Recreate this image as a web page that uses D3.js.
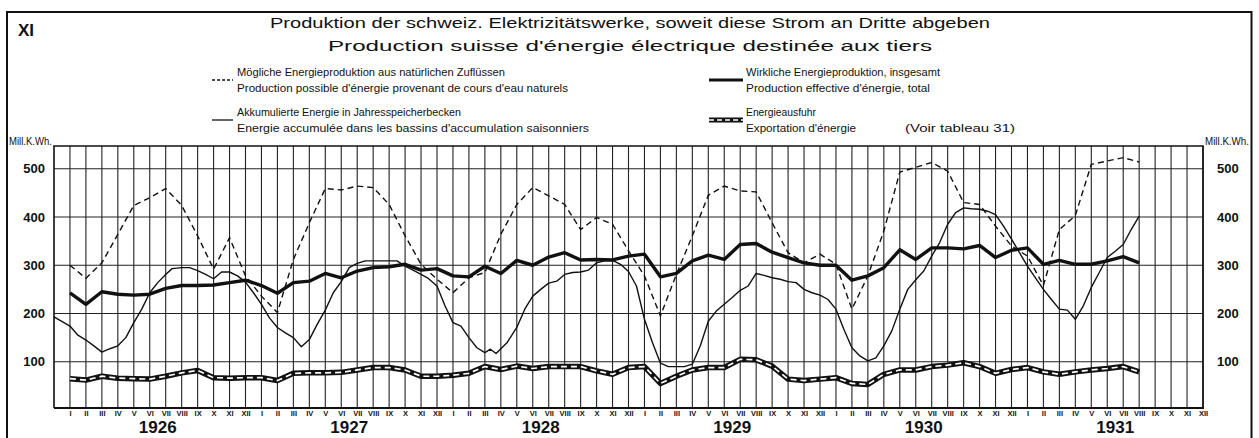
<!DOCTYPE html>
<html><head><meta charset="utf-8">
<script src="https://cdn.jsdelivr.net/npm/d3@7"></script>
<style>
html,body{margin:0;padding:0;background:#fff;}
svg{display:block;}
text{font-family:"Liberation Sans Narrow","Liberation Sans",Arial,sans-serif;fill:#111;}
</style></head>
<body>
<svg id="c" width="1259" height="438"></svg>
<script>
// ---------- data (month index 0 = Jan 1926) ----------
const years = ["1926","1927","1928","1929","1930","1931"];
const monthLabels = ["I","II","III","IV","V","VI","VII","VIII","IX","X","XI","XII"];
const yTicks = [100,200,300,400,500];

// Mögliche Energieproduktion (dashed), monthly from 1926 I
const possible = [300,273,305,364,424,440,459,424,361,292,357,278,
  236,202,312,388,459,456,464,461,426,361,302,271,
  243,274,285,364,426,461,444,426,374,399,385,330,
  278,195,281,361,445,464,454,452,388,326,305,323,
  302,209,278,371,493,503,513,495,430,426,381,340,
  319,258,374,403,509,516,523,514];

// Wirkliche Energieproduktion (thick), monthly
const actual = [243,219,245,240,238,240,252,258,258,259,264,269,
  258,242,264,267,283,274,288,295,297,302,290,293,
  278,276,298,283,310,300,317,326,311,312,311,319,
  323,276,283,309,321,312,343,345,327,316,305,300,
  300,269,278,295,332,312,336,336,334,341,316,331,
  336,302,310,302,302,309,318,305];

// Energieausfuhr (export), monthly
const exportE = [65,62,70,66,65,64,70,77,82,67,66,67,
  67,61,76,77,77,78,83,88,88,83,70,70,
  72,76,90,84,91,86,90,90,90,81,74,88,
  90,55,70,83,88,88,105,104,91,64,61,64,
  67,55,53,74,83,83,90,93,98,90,76,84,
  88,79,74,79,83,86,90,79];

// Akkumulierte Energie (thin), read at roughly half-month steps
const accMonth = [-1,0,0.5,1,1.5,2,2.5,3,3.5,4,4.5,5,5.5,6,6.4,7,7.5,8,8.5,9,9.5,10,10.5,11,11.5,
  12,12.5,13,13.5,14,14.5,15,15.5,16,16.5,17,17.5,18,18.5,19,19.5,20,20.5,21,21.5,22,22.4,23,23.5,
  24,24.5,25,25.5,26,26.35,26.7,27.4,28,28.5,29,29.5,30,30.5,31,31.5,32,32.5,33,33.5,34,34.5,35,35.5,
  36,36.5,37,37.5,38,38.5,39,39.5,40,40.5,41,41.5,42,42.5,43,43.5,44,44.5,45,45.5,46,46.5,47,47.5,
  48,48.5,49,49.5,50,50.5,51,51.5,52,52.5,53,53.5,54,54.5,55,55.5,56,56.5,57,57.5,58,58.5,59,59.5,
  60,60.5,61,61.5,62,62.5,63,63.5,64,64.5,65,65.5,66,66.5,67];
const accValue = [193,174,155,145,133,120,127,133,150,181,209,243,264,281,293,295,295,289,281,272,286,286,278,265,243,
  219,191,171,160,150,131,146,178,207,243,266,295,304,309,309,309,309,309,298,290,281,274,257,216,
  181,174,150,129,119,126,117,140,171,209,236,250,263,267,281,285,286,290,305,309,310,302,287,257,
  188,140,97,90,90,90,95,133,184,205,219,233,248,257,283,279,274,271,266,264,250,243,238,229,
  209,167,129,112,102,108,133,164,209,250,270,288,319,347,385,409,419,417,416,412,405,381,354,326,
  298,274,250,229,209,207,188,216,254,285,316,329,343,374,402];

// ---------- layout ----------
const svg = d3.select("#c");
const L = 54, R = 1203, T = 146, B = 408;
const x = d3.scaleLinear().domain([-1, 71]).range([L, R]);
const y = d3.scaleLinear().domain([0, 500]).range([410, 168.75]);
const months = d3.range(0, 72);

// outer frame
svg.append("path").attr("d", "M7,438 V12 H1251.5 V438").attr("fill","none").attr("stroke","#111").attr("stroke-width",2);

// titles
svg.append("text").attr("x",18).attr("y",36).attr("font-size",17).attr("font-weight","bold")
  .attr("font-family","Liberation Sans, Arial, sans-serif").text("XI");
svg.append("text").attr("x",630).attr("y",28).attr("text-anchor","middle").attr("font-size",15)
  .attr("textLength",720).attr("lengthAdjust","spacingAndGlyphs")
  .text("Produktion der schweiz. Elektrizitätswerke, soweit diese Strom an Dritte abgeben");
svg.append("text").attr("x",630).attr("y",51).attr("text-anchor","middle").attr("font-size",15)
  .attr("textLength",604).attr("lengthAdjust","spacingAndGlyphs")
  .text("Production suisse d'énergie électrique destinée aux tiers");

// legend
function ltext(tx, ty, s, w){
  svg.append("text").attr("x",tx).attr("y",ty).attr("font-size",11.5)
    .attr("textLength",w).attr("lengthAdjust","spacingAndGlyphs").text(s);
}
ltext(237,76,"Mögliche Energieproduktion aus natürlichen Zuflüssen",268);
ltext(237,92,"Production possible d'énergie provenant de cours d'eau naturels",331);
ltext(237,116,"Akkumulierte Energie in Jahresspeicherbecken",224);
ltext(237,132,"Energie accumulée dans les bassins d'accumulation saisonniers",352);
ltext(746,76,"Wirkliche Energieproduktion, insgesamt",194);
ltext(746,92,"Production effective d'énergie, total",184);
ltext(746,116,"Energieausfuhr",70);
ltext(746,132,"Exportation d'énergie",110);
ltext(905,132,"(Voir tableau 31)",110);

svg.append("line").attr("x1",212).attr("x2",233).attr("y1",80).attr("y2",80)
  .attr("stroke","#111").attr("stroke-width",1.3).attr("stroke-dasharray","3,2");
svg.append("line").attr("x1",212).attr("x2",233).attr("y1",120).attr("y2",120)
  .attr("stroke","#111").attr("stroke-width",1.3);
svg.append("line").attr("x1",709).attr("x2",743).attr("y1",80).attr("y2",80)
  .attr("stroke","#111").attr("stroke-width",3.2);
svg.append("line").attr("x1",709).attr("x2",743).attr("y1",120).attr("y2",120)
  .attr("stroke","#111").attr("stroke-width",5);
svg.append("line").attr("x1",709).attr("x2",743).attr("y1",120).attr("y2",120)
  .attr("stroke","#fff").attr("stroke-width",1.6).attr("stroke-dasharray","5,3");

// unit labels
svg.append("text").attr("x",9).attr("y",145).attr("font-size",10.5)
  .attr("textLength",43).attr("lengthAdjust","spacingAndGlyphs").text("Mill.K.Wh.");
svg.append("text").attr("x",1205).attr("y",145).attr("font-size",10.5)
  .attr("textLength",44).attr("lengthAdjust","spacingAndGlyphs").text("Mill.K.Wh.");

// grid
const g = svg.append("g");
g.selectAll("line.h").data(yTicks).join("line")
  .attr("x1",L).attr("x2",R).attr("y1",d=>y(d)).attr("y2",d=>y(d))
  .attr("stroke","#222").attr("stroke-width",1.2);
g.selectAll("line.v").data(months).join("line")
  .attr("x1",d=>x(d)).attr("x2",d=>x(d)).attr("y1",T).attr("y2",B)
  .attr("stroke","#222").attr("stroke-width",1.1);
// frame of plot
svg.append("path").attr("d",`M${L},${B} V${T} H${R} V${B}`).attr("fill","none").attr("stroke","#111").attr("stroke-width",1.6);
svg.append("line").attr("x1",L).attr("x2",R+1).attr("y1",B).attr("y2",B).attr("stroke","#111").attr("stroke-width",2.2);

// y tick labels (left & right) via axes
const axL = d3.axisLeft(y).tickValues(yTicks).tickSize(0).tickPadding(9);
const axR = d3.axisRight(y).tickValues(yTicks).tickSize(0).tickPadding(14);
const gl = svg.append("g").attr("transform",`translate(${L},0)`).call(axL);
const gr = svg.append("g").attr("transform",`translate(${R},0)`).call(axR);
[gl,gr].forEach(a=>{
  a.select(".domain").remove();
  a.selectAll("text").attr("font-size",13).attr("font-weight","bold")
   .attr("font-family","Liberation Sans, Arial, sans-serif").attr("fill","#111");
});

// month labels
const ax = d3.axisBottom(x).tickValues(months).tickSize(0).tickPadding(3)
  .tickFormat(d=>monthLabels[d%12]);
const gx = svg.append("g").attr("transform",`translate(0,${B})`).call(ax);
gx.select(".domain").remove();
gx.selectAll("text").attr("font-size",7.5).attr("font-weight","bold").attr("fill","#111")
  .attr("font-family","Liberation Sans Narrow, Liberation Sans, Arial, sans-serif");

// year labels
svg.selectAll("text.yr").data(years).join("text").attr("class","yr")
  .attr("x",(d,i)=>x(i*12+5.5)).attr("y",433).attr("text-anchor","middle")
  .attr("font-size",17).attr("font-weight","bold")
  .attr("font-family","Liberation Sans, Arial, sans-serif").text(d=>d);

// series
const line = d3.line().x(d=>x(d[0])).y(d=>y(d[1]));
const idx = d3.range(possible.length);

svg.append("path").datum(accMonth.map((m,i)=>[m,accValue[i]]))
  .attr("d",line).attr("fill","none").attr("stroke","#111").attr("stroke-width",1.4)
  .attr("stroke-linejoin","round");
svg.append("path").datum(idx.map(i=>[i,possible[i]]))
  .attr("d",line).attr("fill","none").attr("stroke","#111").attr("stroke-width",1.4)
  .attr("stroke-dasharray","6,4");
svg.append("path").datum(idx.map(i=>[i,actual[i]]))
  .attr("d",line).attr("fill","none").attr("stroke","#111").attr("stroke-width",3.4)
  .attr("stroke-linejoin","round");
const expData = idx.map(i=>[i,exportE[i]]);
svg.append("path").datum(expData)
  .attr("d",line).attr("fill","none").attr("stroke","#111").attr("stroke-width",5.5)
  .attr("stroke-linejoin","round");
svg.append("path").datum(expData)
  .attr("d",line).attr("fill","none").attr("stroke","#fff").attr("stroke-width",1.7)
  .attr("stroke-dasharray","6,4");
</script>
</body></html>
